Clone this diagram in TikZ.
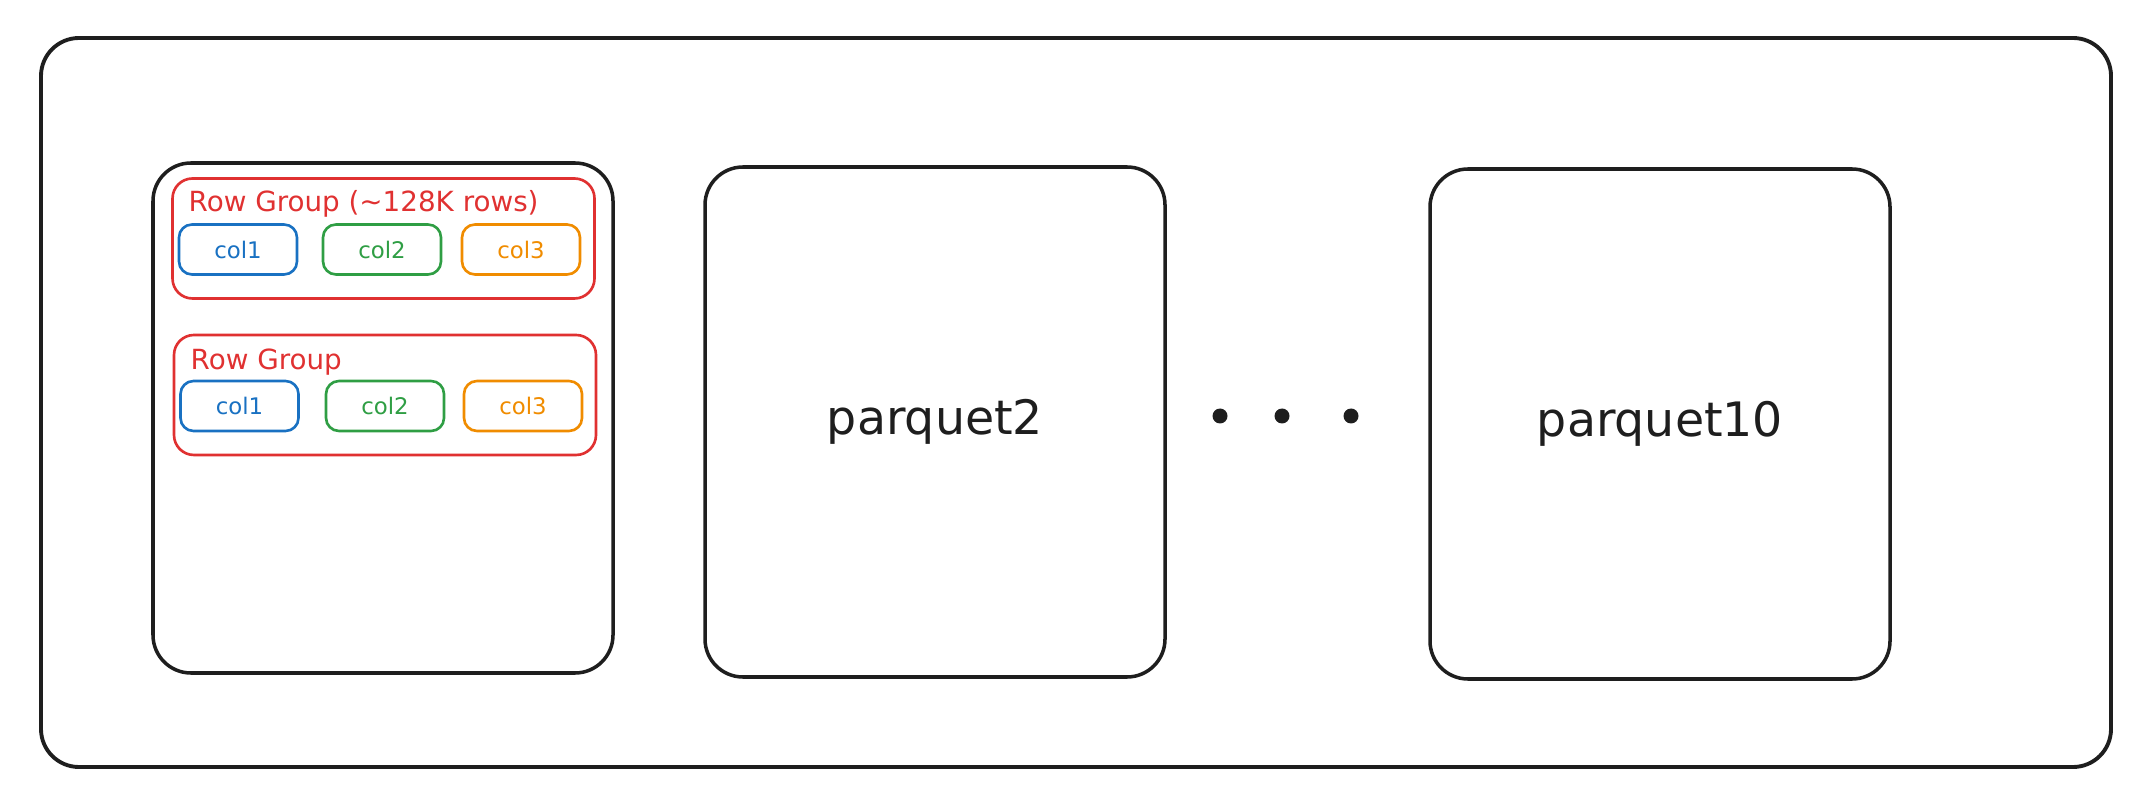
\documentclass[tikz,border=0pt]{standalone}
\usepackage{fontspec}
\usepackage{tikz}
\setmainfont{DejaVu Sans}
\usetikzlibrary{positioning}
\definecolor{mblack}{HTML}{1E1E1E}
\definecolor{mred}{HTML}{E03131}
\definecolor{mblue}{HTML}{1971C2}
\definecolor{mgreen}{HTML}{2F9E44}
\definecolor{morange}{HTML}{F08C00}
\tikzset{frame/.style = {draw=mblack, line width=1.1pt, rounded corners=0.38cm,
                         minimum width=20.70cm, minimum height=7.29cm, inner sep=0}}
\tikzset{filebox/.style = {draw=mblack, line width=1pt, rounded corners=0.38cm,
                           minimum width=4.6cm, minimum height=5.1cm, inner sep=0,
                           text=mblack, font=\fontsize{13.5}{16}\selectfont}}
\tikzset{groupbox/.style = {draw=mred, line width=0.75pt, rounded corners=0.2cm,
                            minimum width=4.22cm, minimum height=1.2cm, inner sep=0}}
\tikzset{grouplabel/.style = {text=mred, anchor=base west, inner sep=0,
                              font=\fontsize{7.9}{9}\selectfont}}
\tikzset{colbox/.style = {line width=0.75pt, rounded corners=0.13cm,
                          minimum width=1.18cm, minimum height=0.5cm, inner sep=0,
                          font=\fontsize{6.5}{8}\selectfont}}
\tikzset{dot/.style = {fill=mblack, circle, inner sep=0, minimum size=0.15cm}}

\begin{document}
\begin{tikzpicture}
      \useasboundingbox (0, 0) rectangle (21.54, 8.08);
      \node [frame] (dataset) at (10.76, 4.055) {};
      \node [filebox] (parquet1) at (3.83, 3.90) {};
      \node [filebox] (parquet2) at (9.35, 3.86) {parquet2};
      \node [filebox] (parquet10) at (16.60, 3.84) {parquet10};
      \node [groupbox] (group1) at (3.835, 5.695) {};
      \node [groupbox] (group2) at (3.85, 4.13) {};
      \node [grouplabel] (label1) at (1.88, 5.96) {Row Group (\char"007E 128K rows)};
      \node [grouplabel] (label2) at (1.90, 4.38) {Row Group};
      \foreach \i/\x/\c in {1/2.38/mblue, 2/3.82/mgreen, 3/5.21/morange}
        \node [colbox, draw=\c, text=\c] (colA\i) at (\x, 5.585) {col\i};
      \foreach \i/\x/\c in {1/2.395/mblue, 2/3.85/mgreen, 3/5.23/morange}
        \node [colbox, draw=\c, text=\c] (colB\i) at (\x, 4.02) {col\i};
      \node [dot] (dot1) at (12.20, 3.92) {};
      \node [dot] (dot2) at (12.82, 3.92) {};
      \node [dot] (dot3) at (13.51, 3.92) {};
    \end{tikzpicture}
\end{document}
